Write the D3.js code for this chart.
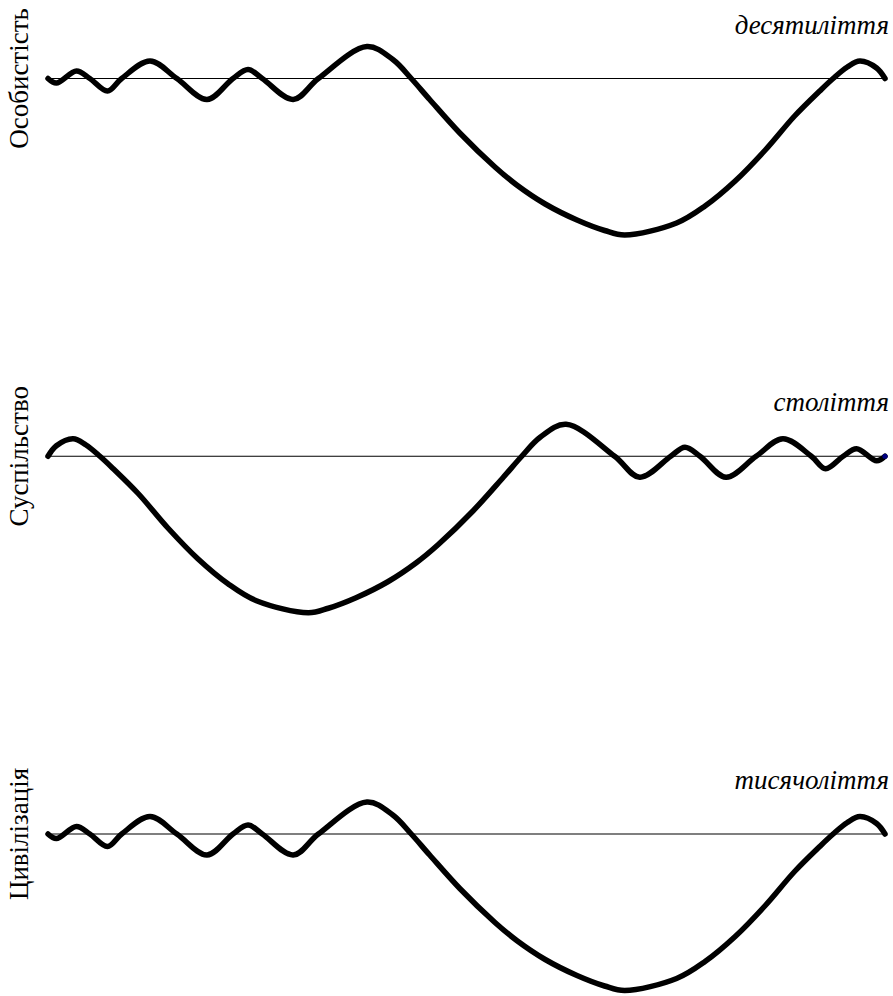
<!DOCTYPE html>
<html>
<head>
<meta charset="utf-8">
<style>
  html, body { margin: 0; padding: 0; background: #fff; }
  svg { display: block; }
  .wave { fill: none; stroke: #000; stroke-width: 5.5; stroke-linecap: round; stroke-linejoin: round; }
  .baseline { stroke: #000; stroke-width: 1.2; }
  .title { font-family: "Liberation Serif", "DejaVu Serif", serif; font-size: 27px; fill: #000; }
  .period { font-family: "Liberation Serif", "DejaVu Serif", serif; font-style: italic; font-size: 27px; fill: #000; }
</style>
<script src="https://cdn.jsdelivr.net/npm/d3@7"></script>
</head>
<body>
<svg id="chart"></svg>
<script>
'use strict';

var titles  = ['Особистість', 'Суспільство', 'Цивілізація'];
var periods = ['десятиліття', 'століття', 'тисячоліття'];

// position along the panel (0..100) and deviation from the baseline
var decadeT = [0, 1.0, 3.4, 5.0, 7.1, 8.8, 12.2, 15.4, 19.0, 22.1, 23.9, 25.6, 29.3, 32.3,
               38.1, 41.2, 43.4, 45.6, 49.2, 53.4, 56.0, 59.4, 63.2, 66.5, 68.9,
               75.1, 78.5, 82.1, 85.7, 89.2, 92.2, 93.8, 95.5, 97.0, 99.0, 100];
var decadeV = [0, -4.5, 7.5, 0, -12.5, 0, 17.5, 0, -21, 0, 9, 0, -21, 0,
               32, 19, 0, -21, -54.5, -88.5, -106.5, -125.5, -141.5, -152, -156.5,
               -144.5, -127.5, -102.5, -71.5, -37.5, -12.5, 0, 11.5, 17.5, 10.5, 0];

var centuryT = [0, 1.0, 3.0, 4.5, 6.2, 7.8, 10.8, 14.3, 17.9, 21.5, 24.9,
                31.1, 33.5, 36.8, 40.6, 44.0, 46.6, 50.8, 54.4, 56.6, 58.8, 61.9,
                67.7, 70.7, 74.4, 76.1, 77.9, 81.0, 84.6, 87.8, 91.2, 92.9, 95.0, 96.6, 99.0, 100];
var centuryV = [0, 10.5, 17.5, 11.5, 0, -12.5, -37.5, -71.5, -102.5, -127.5, -144.5,
                -156.5, -152, -141.5, -125.5, -106.5, -88.5, -54.5, -21, 0, 19, 32,
                0, -21, 0, 9, 0, -21, 0, 17.5, 0, -12.5, 0, 7.5, -4.5, 0];

var millenniumT = [0, 1.0, 3.4, 5.0, 7.1, 8.8, 12.2, 15.4, 19.0, 22.1, 23.9, 25.6, 29.3, 32.3,
                   38.1, 41.2, 43.4, 45.6, 49.2, 53.4, 56.0, 59.4, 63.2, 66.5, 68.9,
                   75.1, 78.5, 82.1, 85.7, 89.2, 92.2, 93.8, 95.5, 97.0, 99.0, 100];
var millenniumV = [0, -4.5, 7.5, 0, -12.5, 0, 17.5, 0, -21, 0, 9, 0, -21, 0,
                   32, 19, 0, -21, -54.5, -88.5, -106.5, -125.5, -141.5, -152, -156.5,
                   -144.5, -127.5, -102.5, -71.5, -37.5, -12.5, 0, 11.5, 17.5, 10.5, 0];

var seriesT = [decadeT, centuryT, millenniumT];
var seriesV = [decadeV, centuryV, millenniumV];

var width = 893, height = 996
    ,panelH = 200;

var svg = d3.select('#chart')
            .attr('width', width)
            .attr('height', height);

var x = d3.scaleLinear().domain([0, 100]).range([48, 885]);
var y = d3.scaleLinear().domain([-160, 40]).range([panelH, 0]);
var panelY = d3.scaleLinear().domain([0, 2]).range([38.5, 794]);

// centripetal Catmull-Rom copes with the uneven spacing of the points
var line = d3.line()
             .x(function(d) { return x(d.t); })
             .y(function(d) { return y(d.v); })
             .curve(d3.curveCatmullRom.alpha(0.5));

titles.forEach(function(title, i) {
  var data = seriesT[i].map(function(t, j) { return {t: t, v: seriesV[i][j]}; });

  var g = svg.append('g')
             .attr('transform', 'translate(0,' + panelY(i) + ')');

  // thin zero line
  g.append('line')
   .attr('class', 'baseline')
   .attr('x1', x(0)).attr('x2', x(100))
   .attr('y1', y(0)).attr('y2', y(0));

  g.append('path')
   .datum(data)
   .attr('class', 'wave')
   .attr('d', line);

  // the society panel ends with a small blue dot
  if (i === 1) {
    var last = data[data.length - 1];
    g.append('circle')
     .attr('cx', x(last.t))
     .attr('cy', y(last.v))
     .attr('r', 2.6)
     .attr('fill', '#000080');
  }

  g.append('text')
   .attr('class', 'title')
   .attr('text-anchor', 'middle')
   .attr('transform', 'translate(28,' + y(0) + ') rotate(-90)')
   .text(title);

  g.append('text')
   .attr('class', 'period')
   .attr('text-anchor', 'end')
   .attr('x', 889)
   .attr('y', y(0) - 45)
   .text(periods[i]);
});
</script>
</body>
</html>
